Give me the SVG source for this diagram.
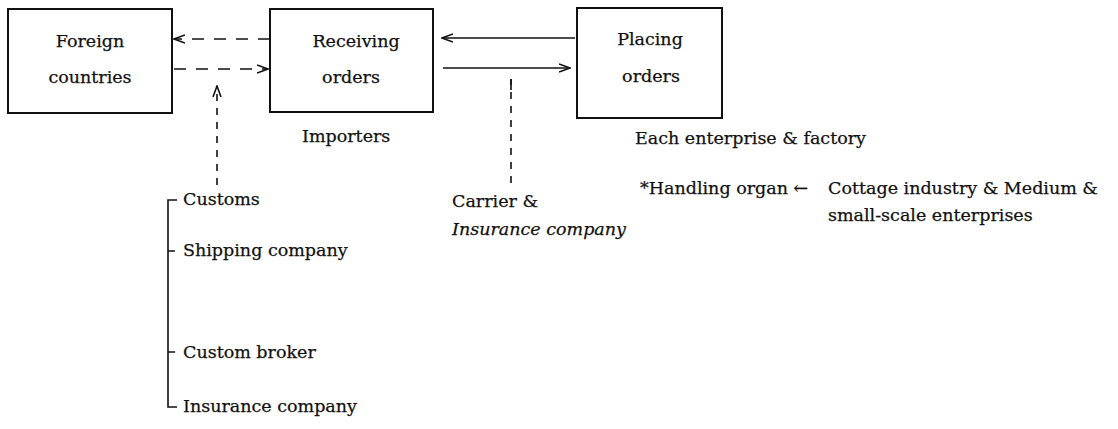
<svg xmlns="http://www.w3.org/2000/svg" width="1118" height="429" viewBox="0 0 1118 429">
<defs>
<style>
text{font-family:"DejaVu Serif","Liberation Serif",serif;font-size:17.5px;fill:#111;stroke:#111;stroke-width:0.25}
.it{font-style:italic}
.box{fill:#fff;stroke:#111;stroke-width:2}
.ln{stroke:#111;stroke-width:1.6;fill:none}
.dash{stroke-dasharray:12,10}
.vdash{stroke-dasharray:7,7}
</style>
<marker id="ah" viewBox="0 0 12 10" refX="11" refY="5" markerWidth="12" markerHeight="10" markerUnits="userSpaceOnUse" orient="auto">
<path d="M0,1 L11,5 L0,9" fill="none" stroke="#111" stroke-width="1.6"/>
</marker>
</defs>
<rect width="1118" height="429" fill="#fff"/>
<g id="foreign">
<rect class="box" x="8" y="9" width="164" height="104"/>
<text x="90" y="47" text-anchor="middle">Foreign</text>
<text x="90" y="83" text-anchor="middle">countries</text>
</g>
<g id="receiving">
<rect class="box" x="270" y="9" width="163" height="103"/>
<text x="356" y="47" text-anchor="middle">Receiving</text>
<text x="351" y="83" text-anchor="middle">orders</text>
<text x="302" y="142">Importers</text>
</g>
<g id="placing">
<rect class="box" x="577" y="8" width="145" height="110"/>
<text x="650" y="45" text-anchor="middle">Placing</text>
<text x="651" y="82" text-anchor="middle">orders</text>
<text x="635" y="144">Each enterprise &amp; factory</text>
</g>
<g id="handling">
<text x="640" y="194">*Handling organ ←</text>
<text x="828" y="194">Cottage industry &amp; Medium &amp;</text>
<text x="828" y="221">small-scale enterprises</text>
</g>
<g id="carrier">
<text x="452" y="207">Carrier &amp;</text>
<text class="it" x="452" y="235">Insurance company</text>
</g>
<g id="agents">
<path class="ln" d="M177,200 H168 V407 H177 M168,251 H175 M168,352 H175"/>
<text x="183" y="205">Customs</text>
<text x="183" y="256">Shipping company</text>
<text x="183" y="358">Custom broker</text>
<text x="183" y="412">Insurance company</text>
</g>
<g id="connectors">
<path class="ln dash" d="M270,39 H174" marker-end="url(#ah)"/>
<path class="ln dash" d="M174,69 H268" marker-end="url(#ah)"/>
<path class="ln" d="M575,38 H442" marker-end="url(#ah)"/>
<path class="ln" d="M443,68 H570" marker-end="url(#ah)"/>
<path class="ln vdash" d="M217,185 V86" marker-end="url(#ah)"/>
<path class="ln vdash" d="M511,183 V79"/>
<path class="ln" d="M511,79 L511,90" stroke-width="2.5"/>
</g>
</svg>
